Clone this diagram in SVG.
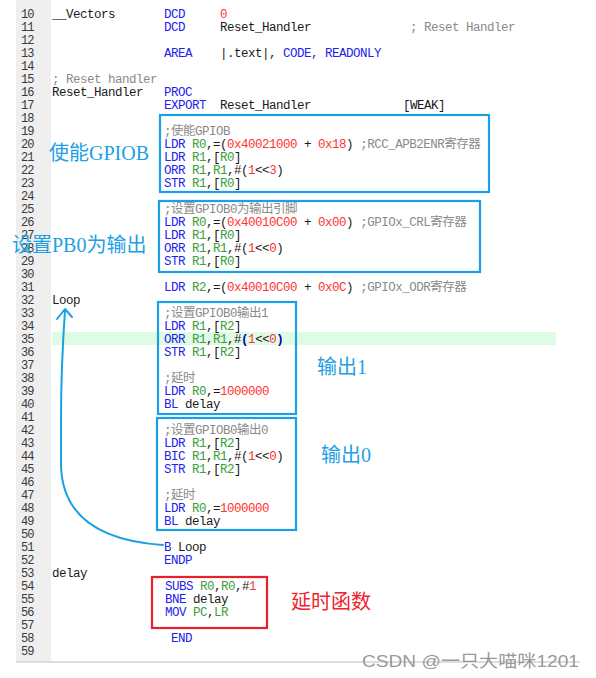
<svg xmlns="http://www.w3.org/2000/svg" width="596" height="678" viewBox="0 0 596 678" xml:space="preserve">
<style>
text{white-space:pre}
.ln{font-family:"Liberation Mono","DejaVu Sans Mono",monospace;font-size:12px;letter-spacing:-1px;fill:#3a3a3a}
.c{font-family:"Liberation Mono","Noto Sans CJK SC",monospace;font-size:12.5px;letter-spacing:-0.5px;fill:#1a1a1a}
.k{fill:#2222ee}
.r{fill:#3c9e3c}
.n{fill:#ff3333}
.m{fill:#8a8a8a}
.hb{fill:#0000b0;font-weight:bold}
.bx{fill:none;stroke:#1aa1e3;stroke-width:2.2}
.rb{fill:none;stroke:#e8202c;stroke-width:2.2}
.lbl{font-family:"Liberation Serif","Noto Sans CJK SC",serif;font-size:20px;fill:#22a0e4}
.lr{fill:#f0232d}
.conn{fill:none;stroke:#1aa1e3;stroke-width:2;stroke-linecap:round;stroke-linejoin:round}
</style>
<rect x="0" y="0" width="596" height="678" fill="#ffffff"/>
<rect x="16" y="0" width="35" height="661" fill="#efefef"/>
<rect x="52" y="332" width="504" height="13" fill="#defbe3"/>
<line x1="16" y1="662" x2="580" y2="662" stroke="#d3d3d3" stroke-width="1.5"/>

<g id="line-numbers" class="ln">
<text x="21" y="18">10</text><text x="21" y="31">11</text><text x="21" y="44">12</text><text x="21" y="57">13</text><text x="21" y="70">14</text>
<text x="21" y="83">15</text><text x="21" y="96">16</text><text x="21" y="109">17</text><text x="21" y="122">18</text><text x="21" y="135">19</text>
<text x="21" y="148">20</text><text x="21" y="161">21</text><text x="21" y="174">22</text><text x="21" y="187">23</text><text x="21" y="200">24</text>
<text x="21" y="213">25</text><text x="21" y="226">26</text><text x="21" y="239">27</text><text x="21" y="252">28</text><text x="21" y="265">29</text>
<text x="21" y="278">30</text><text x="21" y="291">31</text><text x="21" y="304">32</text><text x="21" y="317">33</text><text x="21" y="330">34</text>
<text x="21" y="343">35</text><text x="21" y="356">36</text><text x="21" y="369">37</text><text x="21" y="382">38</text><text x="21" y="395">39</text>
<text x="21" y="408">40</text><text x="21" y="421">41</text><text x="21" y="434">42</text><text x="21" y="447">43</text><text x="21" y="460">44</text>
<text x="21" y="473">45</text><text x="21" y="486">46</text><text x="21" y="499">47</text><text x="21" y="512">48</text><text x="21" y="525">49</text>
<text x="21" y="538">50</text><text x="21" y="551">51</text><text x="21" y="564">52</text><text x="21" y="577">53</text><text x="21" y="590">54</text>
<text x="21" y="603">55</text><text x="21" y="616">56</text><text x="21" y="629">57</text><text x="21" y="642">58</text><text x="21" y="655">59</text>
</g>

<g id="code" class="c">
<text x="52" y="18">__Vectors</text>
<text x="164" y="18" class="c k">DCD</text><text x="220" y="18" class="c n">0</text>
<text x="164" y="31" class="c k">DCD</text><text x="220" y="31">Reset_Handler</text><text x="410" y="31" class="c m">; Reset Handler</text>
<text x="164" y="57" class="c k">AREA</text><text x="220" y="57">|.text|,<tspan class="k"> CODE, READONLY</tspan></text>
<text x="52" y="83" class="c m">; Reset handler</text>
<text x="52" y="96">Reset_Handler</text><text x="164" y="96" class="c k">PROC</text>
<text x="164" y="109" class="c k">EXPORT</text><text x="220" y="109">Reset_Handler</text><text x="403" y="109">[WEAK]</text>
<text x="164" y="291"><tspan class="k">LDR</tspan> <tspan class="r">R2</tspan>,=(<tspan class="n">0x40010C00</tspan> + <tspan class="n">0x0C</tspan>) <tspan class="m">;GPIOx_ODR寄存器</tspan></text>
<text x="52" y="304">Loop</text>
<text x="164" y="551"><tspan class="k">B</tspan> Loop</text>
<text x="164" y="564" class="c k">ENDP</text>
<text x="52" y="577">delay</text>
<text x="171" y="642" class="c k">END</text>
</g>

<g id="box-enable-gpiob">
<rect class="bx" x="160" y="115" width="329" height="77"/>
<text class="c" x="164" y="135"><tspan class="m">;使能GPIOB</tspan></text>
<text class="c" x="164" y="148"><tspan class="k">LDR</tspan> <tspan class="r">R0</tspan>,=(<tspan class="n">0x40021000</tspan> + <tspan class="n">0x18</tspan>) <tspan class="m">;RCC_APB2ENR寄存器</tspan></text>
<text class="c" x="164" y="161"><tspan class="k">LDR</tspan> <tspan class="r">R1</tspan>,[<tspan class="r">R0</tspan>]</text>
<text class="c" x="164" y="174"><tspan class="k">ORR</tspan> <tspan class="r">R1</tspan>,<tspan class="r">R1</tspan>,#(<tspan class="n">1</tspan>&lt;&lt;<tspan class="n">3</tspan>)</text>
<text class="c" x="164" y="187"><tspan class="k">STR</tspan> <tspan class="r">R1</tspan>,[<tspan class="r">R0</tspan>]</text>
</g>

<g id="box-pb0-output">
<rect class="bx" x="159" y="201" width="321" height="71"/>
<text class="c" x="164" y="213"><tspan class="m">;设置GPIOB0为输出引脚</tspan></text>
<text class="c" x="164" y="226"><tspan class="k">LDR</tspan> <tspan class="r">R0</tspan>,=(<tspan class="n">0x40010C00</tspan> + <tspan class="n">0x00</tspan>) <tspan class="m">;GPIOx_CRL寄存器</tspan></text>
<text class="c" x="164" y="239"><tspan class="k">LDR</tspan> <tspan class="r">R1</tspan>,[<tspan class="r">R0</tspan>]</text>
<text class="c" x="164" y="252"><tspan class="k">ORR</tspan> <tspan class="r">R1</tspan>,<tspan class="r">R1</tspan>,#(<tspan class="n">1</tspan>&lt;&lt;<tspan class="n">0</tspan>)</text>
<text class="c" x="164" y="265"><tspan class="k">STR</tspan> <tspan class="r">R1</tspan>,[<tspan class="r">R0</tspan>]</text>
</g>

<g id="box-output1">
<rect class="bx" x="158" y="302" width="138" height="112"/>
<text class="c" x="164" y="317"><tspan class="m">;设置GPIOB0输出1</tspan></text>
<text class="c" x="164" y="330"><tspan class="k">LDR</tspan> <tspan class="r">R1</tspan>,[<tspan class="r">R2</tspan>]</text>
<text class="c" x="164" y="343"><tspan class="k">ORR</tspan> <tspan class="r">R1</tspan>,<tspan class="r">R1</tspan>,#<tspan class="hb">(</tspan><tspan class="n">1</tspan>&lt;&lt;<tspan class="n">0</tspan><tspan class="hb">)</tspan></text>
<text class="c" x="164" y="356"><tspan class="k">STR</tspan> <tspan class="r">R1</tspan>,[<tspan class="r">R2</tspan>]</text>
<text class="c" x="164" y="382"><tspan class="m">;延时</tspan></text>
<text class="c" x="164" y="395"><tspan class="k">LDR</tspan> <tspan class="r">R0</tspan>,=<tspan class="n">1000000</tspan></text>
<text class="c" x="164" y="408"><tspan class="k">BL</tspan> delay</text>
</g>

<g id="box-output0">
<rect class="bx" x="157" y="418" width="139" height="112"/>
<text class="c" x="164" y="434"><tspan class="m">;设置GPIOB0输出0</tspan></text>
<text class="c" x="164" y="447"><tspan class="k">LDR</tspan> <tspan class="r">R1</tspan>,[<tspan class="r">R2</tspan>]</text>
<text class="c" x="164" y="460"><tspan class="k">BIC</tspan> <tspan class="r">R1</tspan>,<tspan class="r">R1</tspan>,#(<tspan class="n">1</tspan>&lt;&lt;<tspan class="n">0</tspan>)</text>
<text class="c" x="164" y="473"><tspan class="k">STR</tspan> <tspan class="r">R1</tspan>,[<tspan class="r">R2</tspan>]</text>
<text class="c" x="164" y="499"><tspan class="m">;延时</tspan></text>
<text class="c" x="164" y="512"><tspan class="k">LDR</tspan> <tspan class="r">R0</tspan>,=<tspan class="n">1000000</tspan></text>
<text class="c" x="164" y="525"><tspan class="k">BL</tspan> delay</text>
</g>

<g id="box-delay">
<rect class="rb" x="152" y="577" width="115" height="51"/>
<text class="c" x="165" y="590"><tspan class="k">SUBS</tspan> <tspan class="r">R0</tspan>,<tspan class="r">R0</tspan>,#<tspan class="n">1</tspan></text>
<text class="c" x="165" y="603"><tspan class="k">BNE</tspan> delay</text>
<text class="c" x="165" y="616"><tspan class="k">MOV</tspan> <tspan class="r">PC</tspan>,<tspan class="r">LR</tspan></text>
</g>

<g id="label-enable"><text class="lbl" x="49" y="160">使能GPIOB</text></g>
<g id="label-pb0"><text class="lbl" x="12" y="252" font-size="21">设置PB0为输出</text></g>
<g id="label-out1"><text class="lbl" x="317" y="374">输出1</text></g>
<g id="label-out0"><text class="lbl" x="321" y="462">输出0</text></g>
<g id="label-delay"><text class="lbl lr" x="291" y="609" font-size="21">延时函数</text></g>

<g id="connectors">
<path class="conn" d="M163,545 C118,542 63,528 61,466 L61,420 Q61,368 65,310"/>
<polyline class="conn" points="57,319 65,309 72,317"/>
</g>

<text x="362" y="667" font-family="Liberation Sans,Noto Sans CJK SC,sans-serif" font-size="17" textLength="217" lengthAdjust="spacingAndGlyphs" fill="#8c8c8c" fill-opacity="0.9">CSDN @一只大喵咪1201</text>
</svg>
